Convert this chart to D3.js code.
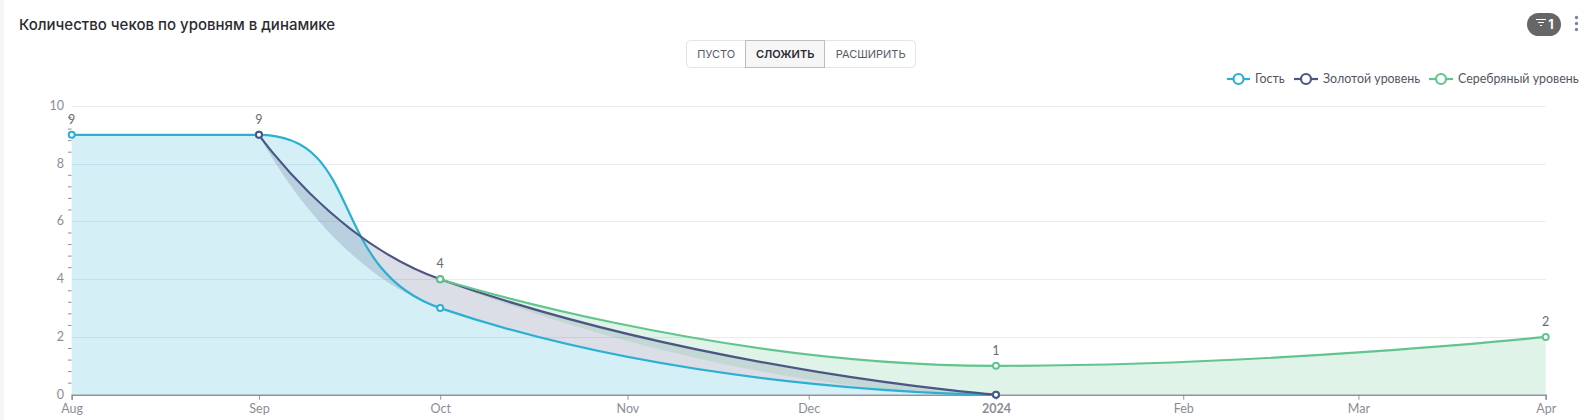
<!DOCTYPE html>
<html><head><meta charset="utf-8">
<script src="https://cdn.jsdelivr.net/npm/d3@7"></script>
<style>
html,body{margin:0;padding:0;background:#fff;overflow:hidden}
svg{display:block}
</style></head><body><svg id="c" width="1591" height="420"></svg>
<script>
// --- data ---
const titleText = "Количество чеков по уровням в динамике";
const modeLabels = ["ПУСТО", "СЛОЖИТЬ", "РАСШИРИТЬ"];
const seriesNames = ["Гость", "Золотой уровень", "Серебряный уровень"];
const seriesColors = ["#2bb0d2", "#4c5685", "#62c58d"];
const xTickDates = ["2023-08-01","2023-09-01","2023-10-01","2023-11-01","2023-12-01","2024-01-01","2024-02-01","2024-03-01","2024-04-01"];
const xTickLabels = ["Aug","Sep","Oct","Nov","Dec","2024","Feb","Mar","Apr"];
const yTicks = [0,2,4,6,8,10];
const guestDates = ["2023-08-01","2023-09-01","2023-10-01","2024-01-01"];
const guestValues = [9,9,3,0];
const guestBase = [0,0,0,0];
const goldDates = ["2023-09-01","2023-10-01","2024-01-01"];
const goldValues = [9,4,0];
const goldBase = [9,3,0];
const silverDates = ["2023-10-01","2024-01-01","2024-04-01"];
const silverValues = [4,1,2];
const silverBase = [4,0,0];
const labelDates = ["2023-08-01","2023-09-01","2023-10-01","2024-01-01","2024-04-01"];
const labelValues = [9,9,4,1,2];

const svg = d3.select("#c");
const parse = d3.utcParse("%Y-%m-%d");
const X0=71.7, X1=1545.7, Y0=394.7, Y1=106;
const x = d3.scaleUtc().domain([parse(xTickDates[0]),parse(xTickDates[8])]).range([X0,X1]);
const y = d3.scaleLinear().domain([0,10]).range([Y0,Y1]);
const FONT = "Lato, sans-serif";

// left page strip
svg.append("rect").attr("x",0).attr("y",0).attr("width",4).attr("height",420).attr("fill","#f6f6f6");

// title
svg.append("text").attr("x",19).attr("y",30).text(titleText)
  .attr("font-family","Inter, sans-serif").attr("font-size",15).attr("font-weight",500).attr("fill","#2b2b33");

// mode buttons
const btnEdges=[686,745,824,916];
svg.append("rect").attr("x",686.5).attr("y",40.5).attr("width",229).attr("height",27).attr("rx",4)
  .attr("fill","#fff").attr("stroke","#e4e4e4");
svg.append("rect").attr("x",745.5).attr("y",40.5).attr("width",79).attr("height",27)
  .attr("fill","#f6f6f6").attr("stroke","#bdbdbd");
modeLabels.forEach((t,i)=>{
  svg.append("text").attr("x",(btnEdges[i]+btnEdges[i+1])/2+0.7).attr("y",58.2).attr("text-anchor","middle")
   .text(t).attr("font-family","Inter, sans-serif").attr("font-size",11)
   .attr("font-weight",i===1?600:400).attr("fill",i===1?"#2b2b33":"#5a5a66");
});

// filter badge
svg.append("rect").attr("x",1527).attr("y",13).attr("width",34).attr("height",23).attr("rx",11.5).attr("fill","#666666");
[[1536,1546,19.5],[1538,1544,22.5],[1540,1542,25.5]].forEach(a=>{
  svg.append("line").attr("x1",a[0]).attr("x2",a[1]).attr("y1",a[2]).attr("y2",a[2]).attr("stroke","#fff").attr("stroke-width",1);
});
svg.append("text").attr("x",1551).attr("y",28.5).attr("text-anchor","middle").text("1")
  .attr("font-family","Inter, sans-serif").attr("font-size",12.5).attr("font-weight",700).attr("fill","#fff");
[17.5,23.5,29.5].forEach(cy=>svg.append("circle").attr("cx",1576.5).attr("cy",cy).attr("r",1.7).attr("fill","#7d8694"));

// legend
const legendItems=[[1227,1250,1255],[1294,1318,1323],[1429,1453,1458]];
seriesNames.forEach((n,i)=>{
  const g=svg.append("g"), L=legendItems[i], yy=79;
  g.append("line").attr("x1",L[0]).attr("x2",L[1]).attr("y1",yy).attr("y2",yy).attr("stroke",seriesColors[i]).attr("stroke-width",2.2);
  g.append("circle").attr("cx",(L[0]+L[1])/2).attr("cy",yy).attr("r",5).attr("fill","#fff").attr("stroke",seriesColors[i]).attr("stroke-width",2.2);
  g.append("text").attr("x",L[2]).attr("y",yy+4).text(n).attr("font-family",FONT).attr("font-size",12.4).attr("fill","#55555f");
});

// grid
const grid=svg.append("g");
yTicks.filter(v=>v>0).forEach(v=>{
  grid.append("line").attr("x1",X0).attr("x2",X1).attr("y1",Math.round(y(v))+.5).attr("y2",Math.round(y(v))+.5).attr("stroke","#e9ebf3").attr("stroke-width",1);
});

// ECharts-style constrained bezier smoothing
function smoothPath(pts,s=0.5){
  let cp0=[pts[0][0],pts[0][1]], d="M"+pts[0][0]+","+pts[0][1];
  for(let i=1;i<pts.length;i++){
    const [px,py]=pts[i-1],[cx,cy]=pts[i];
    let cp1=[cx,cy], next=[cx,cy];
    if(i<pts.length-1){
      const [nx,ny]=pts[i+1];
      const l0=Math.hypot(cx-px,cy-py), l1=Math.hypot(nx-cx,ny-cy);
      const r=l1/(l0+l1);
      let vx=nx-px, vy=ny-py;
      let ncx=cx+vx*s*r, ncy=cy+vy*s*r;
      ncy=Math.max(Math.min(ncy,Math.max(ny,cy)),Math.min(ny,cy));
      vy=ncy-cy; vx=ncx-cx;
      let c1x=cx-vx*l0/l1, c1y=cy-vy*l0/l1;
      c1y=Math.max(Math.min(c1y,Math.max(py,cy)),Math.min(py,cy));
      vy=cy-c1y; vx=cx-c1x;
      ncx=cx+vx*l1/l0; ncy=cy+vy*l1/l0;
      cp1=[c1x,c1y]; next=[ncx,ncy];
    }
    d+="C"+cp0[0]+","+cp0[1]+","+cp1[0]+","+cp1[1]+","+cx+","+cy;
    cp0=next;
  }
  return d;
}
const toPts=(ds,vs)=>ds.map((t,i)=>[x(parse(t)),y(vs[i])]);
const series=[
 {dates:guestDates,values:guestValues,base:guestBase},
 {dates:goldDates,values:goldValues,base:goldBase},
 {dates:silverDates,values:silverValues,base:silverBase}
];
// areas: top edge forward, then lower edge backward
series.forEach((s,i)=>{
  const top=toPts(s.dates,s.values);
  const botD=smoothPath(toPts(s.dates,s.base));
  const nums=botD.replace(/^M/,"").split("C").map(c=>c.split(",").map(Number));
  let rev="L"+nums[nums.length-1].slice(-2).join(",");
  for(let k=nums.length-1;k>0;k--){
    const c=nums[k], prev=nums[k-1].slice(-2);
    rev+="C"+c[2]+","+c[3]+","+c[0]+","+c[1]+","+prev[0]+","+prev[1];
  }
  svg.append("path").attr("d",smoothPath(top)+rev+"Z").attr("fill",seriesColors[i]).attr("fill-opacity",0.2).attr("stroke","none");
});

// axes
const yAxis=svg.append("g");
yTicks.forEach(v=>{
  yAxis.append("text").attr("x",64).attr("y",y(v)+4).attr("text-anchor","end").text(v)
    .attr("font-family",FONT).attr("font-size",12.5).attr("fill","#8c8c96");
});
d3.range(0,10.01,0.4).filter(v=>Math.abs(v/2-Math.round(v/2))>1e-6).forEach(v=>{
  yAxis.append("line").attr("x1",68).attr("x2",71.5).attr("y1",y(v)).attr("y2",y(v)).attr("stroke","#8a8d99").attr("stroke-width",1);
});
const xa=d3.axisBottom(x).tickValues(xTickDates.map(parse)).tickFormat((d,i)=>xTickLabels[i]).tickSize(5).tickPadding(4);
const xg=svg.append("g").attr("transform",`translate(0,${Y0})`).call(xa);
xg.select(".domain").attr("stroke","#8f939e").attr("stroke-width",1.5);
xg.selectAll(".tick line").attr("stroke","#8f939e");
xg.selectAll(".tick text").attr("font-family",FONT).attr("font-size",12.5).attr("fill","#8c8c96")
  .attr("font-weight",(d,i)=>xTickLabels[i]==="2024"?700:400);

// lines + points
series.forEach((s,i)=>{
  svg.append("path").attr("d",smoothPath(toPts(s.dates,s.values))).attr("fill","none").attr("stroke",seriesColors[i]).attr("stroke-width",2.2);
});
series.forEach((s,i)=>{
  svg.append("g").selectAll("circle").data(toPts(s.dates,s.values)).join("circle")
   .attr("cx",d=>d[0]).attr("cy",d=>d[1]).attr("r",3).attr("fill","#fff").attr("stroke",seriesColors[i]).attr("stroke-width",2);
});
labelDates.forEach((t,i)=>{
  svg.append("text").attr("x",x(parse(t))).attr("y",y(labelValues[i])-11).attr("text-anchor","middle").text(labelValues[i])
    .attr("font-family",FONT).attr("font-size",12.5).attr("fill","#6a6a74");
});
</script></body></html>
